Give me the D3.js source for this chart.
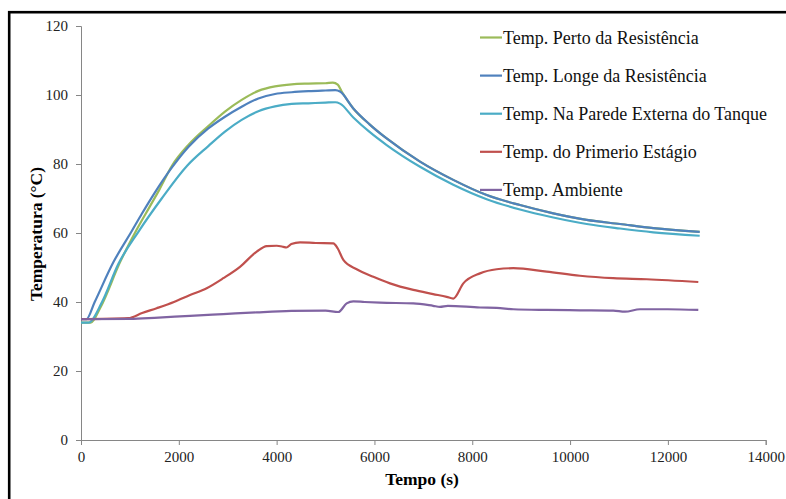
<!DOCTYPE html>
<html>
<head>
<meta charset="utf-8">
<script src="https://cdn.jsdelivr.net/npm/d3@7"></script>
<style>
  body { margin: 0; background: #fff; }
  svg { display: block; }
</style>
</head>
<body>
<svg id="chart" width="786" height="499"></svg>
<script>
// ---- data ----
const xTicks = [0, 2000, 4000, 6000, 8000, 10000, 12000, 14000];
const yTicks = [0, 20, 40, 60, 80, 100, 120];
const seriesNames = [
  "Temp. Perto da Resistência",
  "Temp. Longe da Resistência",
  "Temp. Na Parede Externa do Tanque",
  "Temp. do Primerio Estágio",
  "Temp. Ambiente"
];
const seriesColors = ["#9BBB59", "#4F81BD", "#4BACC6", "#C0504D", "#8064A2"];

const perto = [[0,34],[200,34],[400,38.5],[797,51.5],[1140,61],[1400,67.5],[1600,72.5],[1860,79.5],[2200,85.6],[2603,91],[2944,95.2],[3285,98.6],[3626,101.2],[3967,102.5],[4308,103.1],[4649,103.3],[5000,103.4],[5150,103.6],[5250,103],[5330,101],[5568,96.1],[5900,91.5],[6250,87.4],[6932,80.7],[7612,75.4],[8295,71],[8976,68.1],[9657,65.7],[10340,63.8],[11021,62.6],[11702,61.4],[12650,60.3]];
const longe = [[0,35],[110,35],[280,40],[661,51.5],[1036,60.5],[1241,65.5],[1500,71.5],[1860,79],[2200,85],[2603,90.3],[2944,93.7],[3285,96.6],[3626,99],[3967,100.3],[4308,100.8],[4649,101.1],[5000,101.3],[5200,101.4],[5296,101],[5568,96.1],[5900,91.5],[6250,87.4],[6932,80.7],[7612,75.4],[8295,71],[8976,68.1],[9657,65.7],[10340,63.8],[11021,62.6],[11702,61.4],[12650,60.3]];
const parede = [[0,34],[150,34],[430,40],[763,51],[1180,60.5],[1650,70],[2170,79.5],[2603,85.2],[2944,89.4],[3285,92.8],[3626,95.3],[3967,96.7],[4308,97.4],[4649,97.6],[5000,97.8],[5200,97.9],[5296,97.5],[5568,93.5],[5900,89.3],[6250,85.5],[6932,79.2],[7612,74],[8295,69.8],[8976,66.8],[9657,64.5],[10340,62.6],[11021,61.3],[11702,60.2],[12650,59.2]];
const estagio = [[0,35],[968,35.3],[1250,36.8],[1547,38.2],[1900,40],[2229,42],[2570,44],[2910,46.9],[3251,50.2],[3593,54.6],[3797,56.2],[4000,56.3],[4136,56],[4200,55.8],[4300,56.8],[4478,57.3],[4800,57.1],[5159,57],[5250,55.5],[5364,52.2],[5637,49.5],[5978,47.3],[6318,45.4],[6795,43.5],[7200,42.3],[7477,41.5],[7613,41],[7818,45.4],[8158,48.3],[8499,49.5],[8840,49.8],[9522,48.8],[10203,47.6],[10884,46.9],[11567,46.6],[12622,45.8]];
const ambiente = [[0,35],[1000,35.1],[1500,35.4],[2229,36],[2910,36.5],[3593,37],[4300,37.4],[5000,37.5],[5262,37.1],[5432,39.6],[5568,40.2],[5800,40],[6114,39.8],[6795,39.6],[7200,38.9],[7340,38.6],[7500,38.9],[8158,38.4],[8500,38.3],[8840,37.9],[9522,37.7],[10203,37.6],[10884,37.5],[11123,37.2],[11430,37.9],[12000,37.9],[12622,37.7]];
const allSeries = [perto, longe, parede, estagio, ambiente];

// ---- layout ----
const svg = d3.select("#chart");
const x = d3.scaleLinear().domain([0, 14000]).range([81, 765.7]);
const y = d3.scaleLinear().domain([0, 120]).range([440, 26]);
const axisColor = "#868686";
const serif = "Liberation Serif, Times New Roman, DejaVu Serif, serif";

svg.append("rect").attr("width", 786).attr("height", 499).attr("fill", "#fff");
// outer border
svg.append("rect").attr("x", 9.2).attr("y", 12.2).attr("width", 820).attr("height", 520)
  .attr("fill", "none").attr("stroke", "#000").attr("stroke-width", 2.6);

// axes
const gx = svg.append("g").attr("transform", "translate(0,440)")
  .call(d3.axisBottom(x).tickValues(xTicks).tickSize(5).tickPadding(6).tickFormat(d3.format("d")));
const gy = svg.append("g").attr("transform", "translate(81,0)")
  .call(d3.axisLeft(y).tickValues(yTicks).tickSize(5).tickPadding(8).tickFormat(d3.format("d")));
[gx, gy].forEach(g => {
  g.attr("font-family", serif).attr("font-size", 15);
  g.select(".domain").attr("stroke", axisColor).attr("stroke-width", 1);
  g.selectAll(".tick line").attr("stroke", axisColor);
  g.selectAll(".tick text").attr("fill", "#222");
});

// lines
const line = d3.line().x(d => x(d[0])).y(d => y(d[1])).curve(d3.curveMonotoneX);
allSeries.forEach((s, i) => {
  svg.append("path").datum(s).attr("d", line)
    .attr("fill", "none").attr("stroke", seriesColors[i]).attr("stroke-width", 2.2)
    .attr("stroke-linejoin", "round");
});

// axis titles
svg.append("text").attr("x", 422).attr("y", 485).attr("text-anchor", "middle")
  .attr("font-family", serif).attr("font-size", 17.5).attr("font-weight", "bold")
  .text("Tempo (s)");
svg.append("text").attr("transform", "translate(42,234) rotate(-90)").attr("text-anchor", "middle")
  .attr("font-family", serif).attr("font-size", 17.5).attr("font-weight", "bold")
  .text("Temperatura (°C)");

// legend
const legend = svg.append("g");
seriesNames.forEach((name, i) => {
  const ly = 37.5 + i * 38.1;
  legend.append("line").attr("x1", 480).attr("x2", 502).attr("y1", ly).attr("y2", ly)
    .attr("stroke", seriesColors[i]).attr("stroke-width", 2.2);
  legend.append("text").attr("x", 503).attr("y", ly + 6)
    .attr("font-family", serif).attr("font-size", 18).attr("fill", "#111")
    .text(name);
});
</script>
</body>
</html>
